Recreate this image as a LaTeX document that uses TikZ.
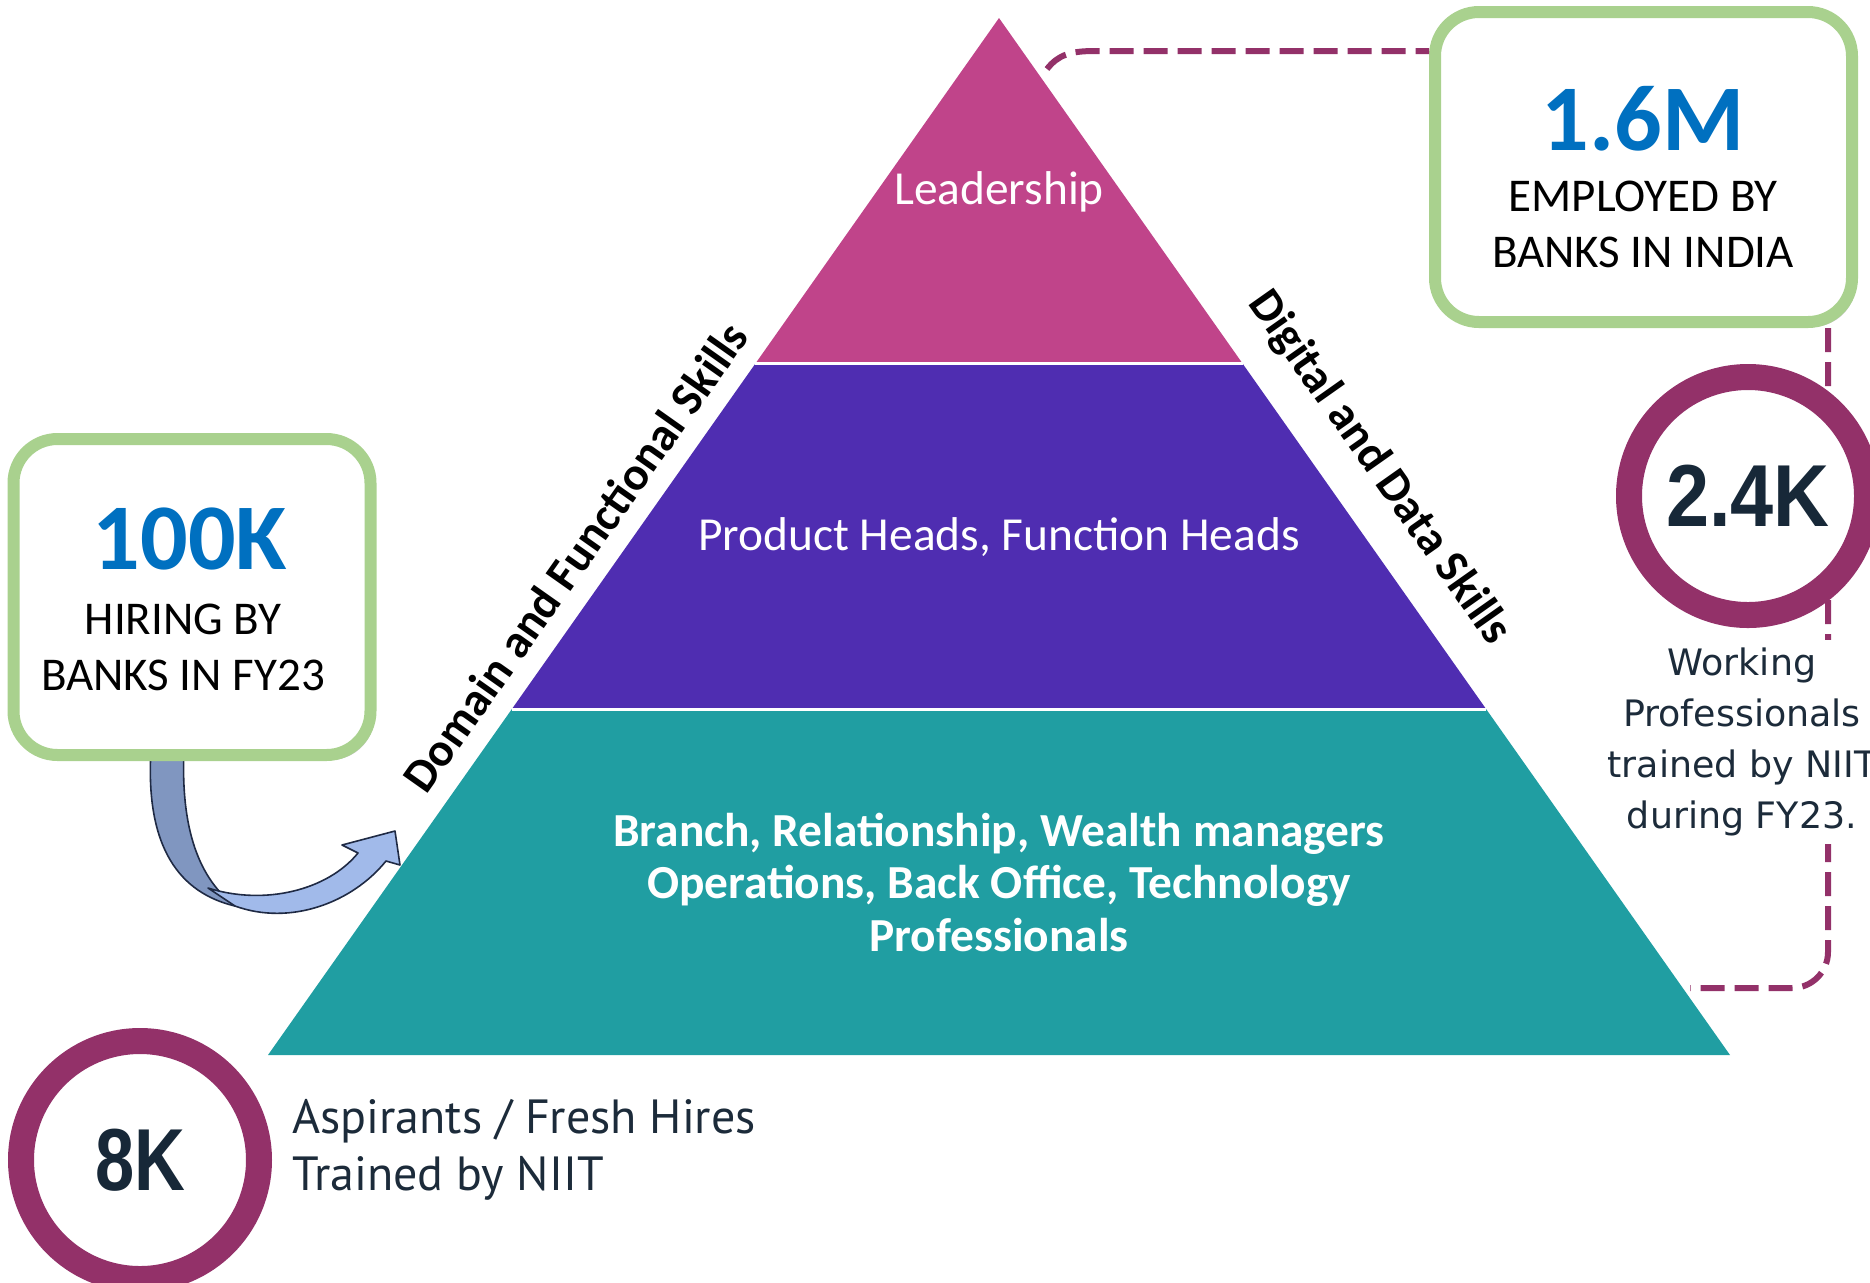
\documentclass[tikz,border=0pt]{standalone}
\usepackage{amsmath}
\usepackage{fontspec}
\setmainfont{Carlito}
\newfontfamily\numfont{Liberation Sans}
\newfontfamily\notefont{PT Sans}
\newfontfamily\workfont{DejaVu Sans}
\usepackage{tikz}
\usetikzlibrary{calc,shadows}

\begin{document}
\begin{tikzpicture}[x=0.5pt,y=0.5pt,yscale=-1,xscale=1,
    statbox/.style={draw={rgb, 255:red, 169; green, 209; blue, 142}, line width=6pt, fill=white, rounded corners=22pt, inner sep=0pt,
      drop shadow={shadow xshift=2pt, shadow yshift=-2.5pt, opacity=0.3, fill=black!70}},
    statring/.style={circle, draw={rgb, 255:red, 147; green, 49; blue, 105}, line width=13pt, fill=white, minimum size=119pt, inner sep=0pt,
      text={rgb, 255:red, 23; green, 40; blue, 56}, font=\numfont\bfseries\fontsize{44}{44}\selectfont},
    linkdash/.style={draw={rgb, 255:red, 147; green, 49; blue, 105}, line width=3pt, dash pattern=on 12pt off 5pt},
    bignum/.style={inner sep=0pt, text={rgb, 255:red, 0; green, 112; blue, 192}, font=\bfseries\fontsize{47}{47}\selectfont},
    boxcap/.style={inner sep=0pt, align=center, font=\fontsize{23.5}{28}\selectfont},
    tiertext/.style={inner sep=0pt, text=white, font=\fontsize{23.7}{26.25}\selectfont},
    edgetext/.style={inner sep=0pt, font=\bfseries\fontsize{23.5}{23.5}\selectfont},
    arrowedge/.style={draw={rgb, 255:red, 31; green, 42; blue, 68}, line width=0.8pt, line join=round}
  ]
  \useasboundingbox (0,0) rectangle (1870,1282);

  %Shape: Pyramid corners
  \coordinate (apex) at (999,18);
  \coordinate (bl) at (268,1055);
  \coordinate (br) at (1730,1055);
  \coordinate (l1) at ($(apex)!1/3!(bl)$);
  \coordinate (r1) at ($(apex)!1/3!(br)$);
  \coordinate (l2) at ($(apex)!2/3!(bl)$);
  \coordinate (r2) at ($(apex)!2/3!(br)$);

  %Shape: Pyramid tiers
  \fill [fill={rgb, 255:red, 192; green, 68; blue, 138}] (apex) -- (r1) -- (l1) -- cycle;
  \fill [fill={rgb, 255:red, 79; green, 45; blue, 177}] (l1) -- (r1) -- (r2) -- (l2) -- cycle;
  \fill [fill={rgb, 255:red, 32; green, 158; blue, 162}] (l2) -- (r2) -- (br) -- (bl) -- cycle;
  %Straight Lines
  \draw [white, line width=1.5pt] (l1) -- (r1);
  \draw [white, line width=1.5pt] (l2) -- (r2);

  %Shape: Curved Arrow (back)
  \draw [arrowedge, fill={rgb, 255:red, 128; green, 150; blue, 192}] (151,750) .. controls (145,848) and (180,893) .. (235,906) .. controls (205,883) and (180,840) .. (184,750) -- cycle;
  %Shape: Curved Arrow (front)
  \draw [arrowedge, fill={rgb, 255:red, 161; green, 186; blue, 234}] (208,888) .. controls (265,906) and (328,890) .. (358,853) -- (342,845) -- (395,831) -- (400,865) -- (386,861) .. controls (352,903) and (290,926) .. (235,906) -- cycle;

  % Stat boxes
  \node [statbox, minimum width=178.5pt, minimum height=158pt] (hire) at (192,597) {};
  \node [bignum] (hire-num) at (190,539) {100K};
  \node [boxcap] (hire-cap) at (183,647) {HIRING BY\\BANKS IN FY23};

  \node [statbox, minimum width=208.5pt, minimum height=155pt] (emp) at (1643.5,167) {};
  \node [bignum] (emp-num) at (1643,119) {1.6M};
  \node [boxcap] (emp-cap) at (1643,224) {EMPLOYED BY\\BANKS IN INDIA};

  %Dashed Lines
  \coordinate (ldr-out) at (1047,69);
  \coordinate (toplink) at (1095,51);
  \draw [linkdash] (ldr-out) .. controls (1058,55) and (1070,51) .. (toplink) -- (emp.west |- toplink);
  \coordinate (dropx) at (1828,0);
  \coordinate (base-in) at (1690,988);
  \draw [linkdash, rounded corners=18pt] (emp.south -| dropx) -- (dropx |- base-in) -- (base-in);

  % Rings
  \node [statring] (pro-ring) at (1748,496) {\scalebox{0.88}[1]{2.4K}};
  \node [statring] (asp-ring) at (140,1160) {\scalebox{0.8}[1]{8K}};

  % Text Node
  \node [inner sep=4pt, fill=white, align=center, text={rgb, 255:red, 28; green, 43; blue, 58}, font=\workfont\fontsize{18.2}{25.6}\selectfont] (pro-note) at (1742,742) {Working\\Professionals\\trained by NIIT\\during FY23.};
  % Text Node
  \node [anchor=west, inner sep=0pt, align=left, text={rgb, 255:red, 28; green, 43; blue, 58}, font=\notefont\fontsize{24}{28.5}\selectfont] (asp-note) at (292,1150) {Aspirants / Fresh Hires\\Trained by NIIT};

  % Tier labels
  \node [tiertext] (ldr) at (999,192) {Leadership};
  \node [tiertext] (heads) at (999,537) {Product Heads, Function Heads};
  \node [tiertext, align=center, font=\bfseries\fontsize{23.7}{26.25}\selectfont] (staff) at (999,882) {Branch, Relationship, Wealth managers\\Operations, Back Office, Technology\\Professionals};

  % Edge labels
  \node [edgetext, rotate=54.8] (domain) at (575,557) {Domain and Functional Skills};
  \node [edgetext, rotate=-54.8] (digital) at (1379,468) {Digital and Data Skills};
\end{tikzpicture}
\end{document}
